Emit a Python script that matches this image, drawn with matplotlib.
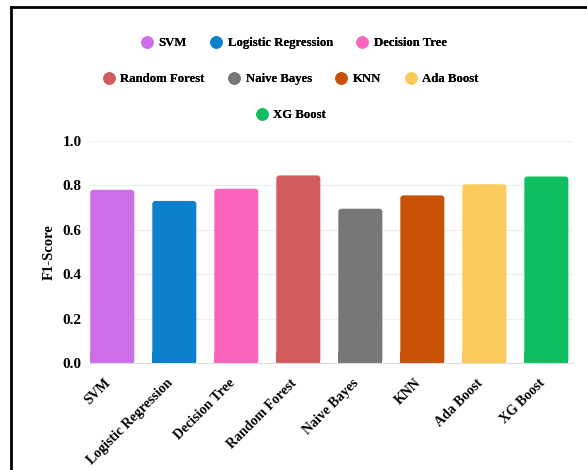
import matplotlib
matplotlib.use("Agg")
import matplotlib.pyplot as plt
import matplotlib.transforms as mtransforms
from matplotlib.lines import Line2D
from matplotlib.patches import FancyBboxPatch

models = ["SVM", "Logistic Regression", "Decision Tree", "Random Forest",
          "Naive Bayes", "KNN", "Ada Boost", "XG Boost"]
f1_scores = [0.78, 0.73, 0.785, 0.845, 0.695, 0.755, 0.805, 0.84]
colors = ["#cc6ee6", "#0b80cc", "#fc65bf", "#d25b5b",
          "#777777", "#c85107", "#fcca5a", "#0fbd61"]
y_ticks = [0.0, 0.2, 0.4, 0.6, 0.8, 1.0]

plt.rcParams["font.family"] = ["Liberation Serif", "DejaVu Serif"]
plt.rcParams["font.weight"] = "bold"

fig = plt.figure(figsize=(5.87, 4.70), dpi=100)
ax = fig.add_axes([90 / 587, 1 - 363 / 470, (573 - 90) / 587, (363 - 141) / 470])

bars = ax.bar(range(len(models)), f1_scores, width=0.71, color=colors, zorder=2)

# swap plain rectangles for ones with rounded top corners
for b in bars:
    x, y = b.get_x(), b.get_y()
    w, h = b.get_width(), b.get_height()
    fc = b.get_facecolor()
    b.set_visible(False)
    ax.add_patch(FancyBboxPatch((x, y), w, h,
                                boxstyle="round,pad=0,rounding_size=0.05",
                                mutation_aspect=0.28,
                                facecolor=fc, edgecolor="none", zorder=2))
    ax.add_patch(plt.Rectangle((x, y), w, 0.05, facecolor=fc,
                               edgecolor="none", zorder=2))

ax.set_xlim(-0.36, 7.43)
ax.set_ylim(0, 1.0)
ax.set_yticks(y_ticks)
ax.set_yticklabels([f"{t:.1f}" for t in y_ticks], fontsize=11, fontweight="bold")
ax.set_xticks(range(len(models)))
ax.set_xticklabels(models, rotation=45, ha="right", rotation_mode="anchor",
                   fontsize=10, fontweight="bold")
ax.tick_params(length=0, pad=6)
shift = mtransforms.ScaledTranslation(-8 / 100, -5 / 100, fig.dpi_scale_trans)
for lbl in ax.get_xticklabels():
    lbl.set_transform(lbl.get_transform() + shift)
ax.yaxis.grid(True, color="#eeeeee", linewidth=0.8, zorder=0)
ax.set_axisbelow(True)
for s in ["top", "right", "left"]:
    ax.spines[s].set_visible(False)
ax.spines["bottom"].set_color("#dddddd")
ax.set_ylabel("F1-Score", fontsize=10.5, fontweight="bold", labelpad=5)

# legend in three centred rows
rows = [[0, 1, 2], [3, 4, 5, 6], [7]]
row_y = [1 - 43 / 470, 1 - 79 / 470, 1 - 115 / 470]
row_x = [293.5 / 587, 290.5 / 587, 290.5 / 587]
for idx, yy, xx in zip(rows, row_y, row_x):
    handles = [Line2D([], [], marker="o", linestyle="none", markersize=9,
                      markerfacecolor=colors[i], markeredgecolor="none")
               for i in idx]
    leg = fig.legend(handles, [models[i] for i in idx], loc="center",
                     bbox_to_anchor=(xx, yy), ncol=len(idx), frameon=False,
                     prop={"family": "Liberation Serif", "weight": "bold", "size": 9.2},
                     handletextpad=0.4, columnspacing=1.8, handlelength=1.0,
                     borderaxespad=0, borderpad=0)
    fig.add_artist(leg)

# outer frame (left and top edges)
fig.add_artist(Line2D([11 / 587, 11 / 587], [0, 1 - 7 / 470], transform=fig.transFigure,
                      color="black", linewidth=2))
fig.add_artist(Line2D([11 / 587, 1], [1 - 7 / 470, 1 - 7 / 470], transform=fig.transFigure,
                      color="black", linewidth=2))

fig.savefig("out.png", dpi=100, facecolor="white")
